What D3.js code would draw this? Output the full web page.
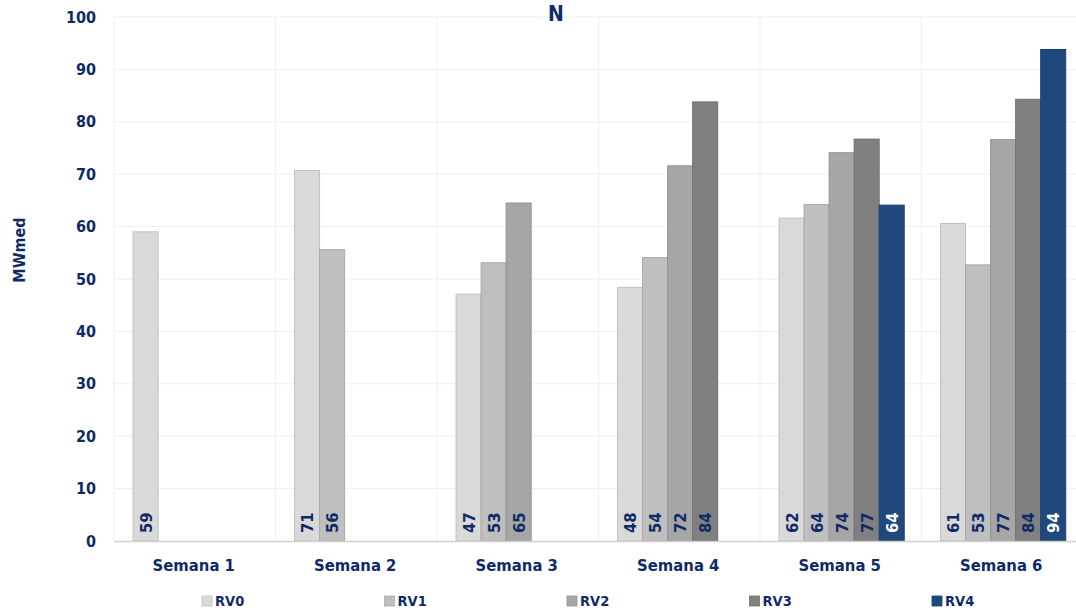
<!DOCTYPE html>
<html>
<head>
<meta charset="utf-8">
<script src="https://cdn.jsdelivr.net/npm/d3@7"></script>
<style>
  html, body { margin: 0; padding: 0; background: #ffffff; }
  svg { display: block; }
  text { font-family: "DejaVu Sans Condensed", "DejaVu Sans", sans-serif; font-weight: bold; }
</style>
</head>
<body>
<svg id="chart" width="1076" height="612"></svg>
<script>
// ---- data ----
const categories = ["Semana 1", "Semana 2", "Semana 3", "Semana 4", "Semana 5", "Semana 6"];
const seriesNames = ["RV0", "RV1", "RV2", "RV3", "RV4"];
const RV0 = [59.0, 70.7, 47.1, 48.4, 61.6, 60.6];
const RV1 = [null, 55.6, 53.1, 54.1, 64.2, 52.7];
const RV2 = [null, null, 64.5, 71.6, 74.1, 76.6];
const RV3 = [null, null, null, 83.8, 76.7, 84.3];
const RV4 = [null, null, null, null, 64.1, 93.8];
const yTicks = [0, 10, 20, 30, 40, 50, 60, 70, 80, 90, 100];
const colors = ["#d9d9d9", "#bfbfbf", "#a6a6a6", "#808080", "#1f497d"];
const labelColors = ["#0f2a66", "#0f2a66", "#0f2a66", "#0f2a66", "#ffffff"];
const title = "N";
const yTitle = "MWmed";

const seriesValues = [RV0, RV1, RV2, RV3, RV4];
const navy = "#0f2a66";

const svg = d3.select("#chart");
const margin = { left: 114, right: 1083, top: 17, bottom: 541 };

const x0 = d3.scaleBand().domain(categories).range([margin.left, margin.right]).paddingInner(0).paddingOuter(0);
const bw = x0.bandwidth();
const x1 = d3.scaleBand().domain(seriesNames).range([bw * 0.118, bw * 0.893]).padding(0);
const y = d3.scaleLinear().domain([0, 100]).range([margin.bottom, margin.top]);

// gridlines horizontal
svg.append("g").selectAll("line").data(yTicks.filter(t => t > 0)).join("line")
  .attr("x1", margin.left).attr("x2", margin.right)
  .attr("y1", d => y(d)).attr("y2", d => y(d))
  .attr("stroke", "#efefef").attr("stroke-width", 1);

// gridlines vertical (category boundaries)
const bounds = categories.map(c => x0(c)).concat([margin.right]);
svg.append("g").selectAll("line").data(bounds).join("line")
  .attr("x1", d => d).attr("x2", d => d)
  .attr("y1", margin.top).attr("y2", margin.bottom)
  .attr("stroke", "#efefef").attr("stroke-width", 1);

// y-axis labels
const yAxis = svg.append("g").attr("transform", `translate(${margin.left - 18},0)`)
  .call(d3.axisLeft(y).tickValues(yTicks).tickSize(0).tickPadding(0));
yAxis.select(".domain").remove();
yAxis.selectAll("text").attr("fill", navy).style("font-size", "16px")
  .style("font-family", "'DejaVu Sans Condensed', 'DejaVu Sans', sans-serif").style("font-weight", "bold");

// bars
const flat = [];
categories.forEach((c, i) => {
  seriesNames.forEach((s, j) => {
    const v = seriesValues[j][i];
    if (v !== null && v !== undefined) flat.push({ cat: c, ser: s, j, v });
  });
});

const barG = svg.append("g");
barG.selectAll("rect").data(flat).join("rect")
  .attr("x", d => x0(d.cat) + x1(d.ser))
  .attr("width", x1.bandwidth())
  .attr("y", d => y(d.v))
  .attr("height", d => y(0) - y(d.v))
  .attr("fill", d => colors[d.j])
  .attr("stroke", d => d3.color(colors[d.j]).darker(0.35))
  .attr("stroke-width", 1);

// x-axis baseline
svg.append("line")
  .attr("x1", margin.left).attr("x2", margin.right)
  .attr("y1", y(0) + 0.5).attr("y2", y(0) + 0.5)
  .attr("stroke", "#d0d0d0").attr("stroke-width", 1.5);

// data labels
barG.selectAll("text").data(flat).join("text")
  .attr("transform", d => `translate(${x0(d.cat) + x1(d.ser) + x1.bandwidth() / 2 + 6},${y(0) - 8}) rotate(-90)`)
  .attr("text-anchor", "start")
  .attr("fill", d => labelColors[d.j])
  .style("font-size", "16.5px")
  .text(d => d3.format(".0f")(d.v));

// category labels
svg.append("g").selectAll("text").data(categories).join("text")
  .attr("x", d => x0(d) + bw / 2 - 1)
  .attr("y", 571)
  .attr("text-anchor", "middle")
  .attr("fill", navy)
  .style("font-size", "16.5px")
  .text(d => d);

// title
svg.append("text")
  .attr("x", 556).attr("y", 21)
  .attr("text-anchor", "middle")
  .attr("fill", navy)
  .style("font-size", "21px")
  .text(title);

// y title
svg.append("text")
  .attr("transform", `translate(25,250) rotate(-90)`)
  .attr("text-anchor", "middle")
  .attr("fill", navy)
  .style("font-size", "16px")
  .text(yTitle);

// legend
const legendX = d3.scalePoint().domain(seriesNames).range([202, 932]);
const lg = svg.append("g").selectAll("g").data(seriesNames).join("g")
  .attr("transform", d => `translate(${legendX(d)},596)`);
lg.append("rect")
  .attr("width", 10).attr("height", 10)
  .attr("fill", (d, i) => colors[i])
  .attr("stroke", (d, i) => d3.color(colors[i]).darker(0.35))
  .attr("stroke-width", 0.8);
lg.append("text")
  .attr("x", 13).attr("y", 10)
  .attr("fill", navy)
  .style("font-size", "14.5px")
  .text(d => d);
</script>
</body>
</html>
